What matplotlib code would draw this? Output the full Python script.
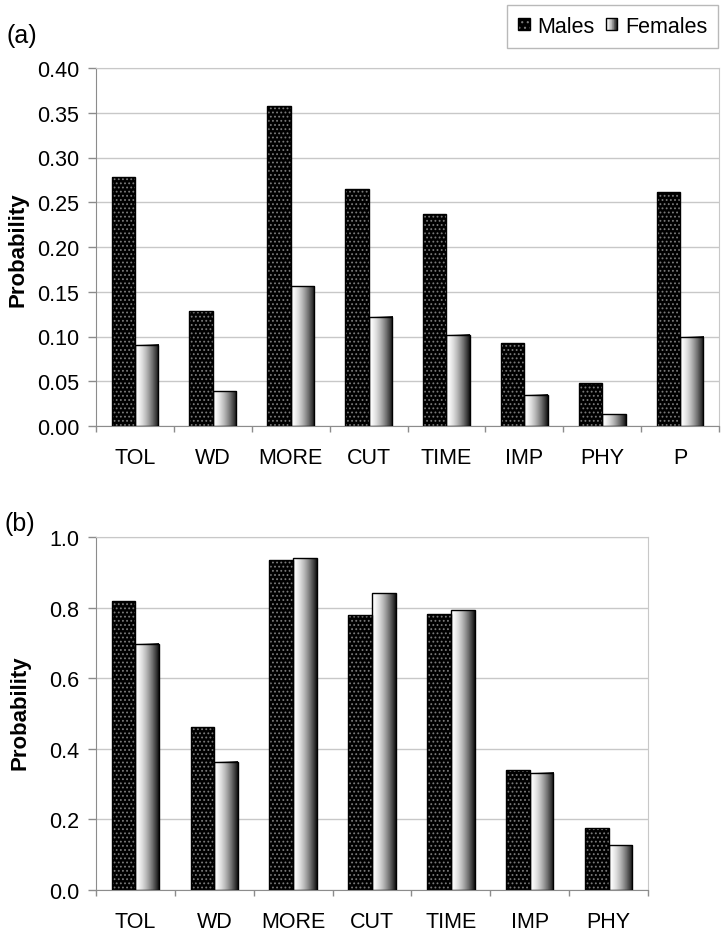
import numpy as np
import matplotlib
matplotlib.use("Agg")
import matplotlib.pyplot as plt
from matplotlib.patches import Rectangle, Patch
from matplotlib.legend_handler import HandlerBase
from matplotlib.ticker import FormatStrFormatter

plt.rcParams['font.family'] = ['Liberation Sans', 'DejaVu Sans']
plt.rcParams['hatch.linewidth'] = 0.8

# ---- data ----
cats_a = ["TOL", "WD", "MORE", "CUT", "TIME", "IMP", "PHY", "P"]
males_a = [0.278, 0.128, 0.357, 0.265, 0.237, 0.093, 0.048, 0.261]
females_a = [0.091, 0.039, 0.156, 0.122, 0.102, 0.035, 0.013, 0.100]

cats_b = ["TOL", "WD", "MORE", "CUT", "TIME", "IMP", "PHY"]
males_b = [0.820, 0.462, 0.935, 0.778, 0.783, 0.340, 0.176]
females_b = [0.697, 0.363, 0.940, 0.840, 0.792, 0.332, 0.127]

series_labels = ["Males", "Females"]
yticks_a = [0.00, 0.05, 0.10, 0.15, 0.20, 0.25, 0.30, 0.35, 0.40]
yticks_b = [0.0, 0.2, 0.4, 0.6, 0.8, 1.0]

# ---- styling ----
FS = 15.5
BAR_W = 0.30
HATCH = '....'
DOT_COLOR = '#7a7a7a'
AXIS_COLOR = '#8c8c8c'
GRID_COLOR = '#c8c8c8'
grad_t = np.linspace(0, 1, 64)
grad_vals = 1 - 0.93 * grad_t ** 1.6

W, H = 728, 937
fig = plt.figure(figsize=(W / 100, H / 100), dpi=100)


def fx(px):
    return px / W


def fy(py):
    return 1 - py / H


def draw_panel(ax, cats, males, females, yticks, fmt):
    x = np.arange(len(cats))
    ax.bar(x - BAR_W / 2, males, BAR_W, facecolor='black', edgecolor=DOT_COLOR,
           hatch=HATCH, linewidth=0, zorder=2)
    ax.bar(x - BAR_W / 2, males, BAR_W, facecolor='none', edgecolor='black',
           linewidth=1.0, zorder=3)
    fb = ax.bar(x + BAR_W / 2, females, BAR_W, facecolor='none', edgecolor='black',
                linewidth=1.0, zorder=3)
    for rect in fb:
        x0, w, h = rect.get_x(), rect.get_width(), rect.get_height()
        ax.imshow(grad_vals[np.newaxis, :], cmap='gray', vmin=0, vmax=1,
                  extent=(x0, x0 + w, 0, h), aspect='auto', zorder=2,
                  interpolation='bilinear')
    ax.set_xlim(-0.5, len(cats) - 0.5)
    ax.set_ylim(yticks[0], yticks[-1])
    ax.set_yticks(yticks)
    ax.yaxis.set_major_formatter(FormatStrFormatter(fmt))
    ax.set_xticks(x)
    ax.set_xticklabels(cats)
    ax.set_xticks(np.arange(len(cats) + 1) - 0.5, minor=True)
    ax.tick_params(axis='x', which='major', length=0, pad=15, labelsize=FS)
    ax.tick_params(axis='x', which='minor', length=4, direction='out',
                   color=AXIS_COLOR, width=1)
    ax.tick_params(axis='y', which='major', length=6, direction='out',
                   color=AXIS_COLOR, width=1, pad=6, labelsize=FS)
    ax.yaxis.grid(True, color=GRID_COLOR, linewidth=1)
    ax.set_axisbelow(True)
    for s in ['left', 'bottom']:
        ax.spines[s].set_color(AXIS_COLOR)
    for s in ['top', 'right']:
        ax.spines[s].set_color(GRID_COLOR)


ax_a = fig.add_axes([fx(96), fy(427), fx(719) - fx(96), fy(69) - fy(427)])
draw_panel(ax_a, cats_a, males_a, females_a, yticks_a, '%.2f')

ax_b = fig.add_axes([fx(96), fy(891), fx(648) - fx(96), fy(538) - fy(891)])
draw_panel(ax_b, cats_b, males_b, females_b, yticks_b, '%.1f')

fig.text(fx(6), fy(36), '(a)', fontsize=18, ha='left', va='center')
fig.text(fx(5), fy(524), '(b)', fontsize=18, ha='left', va='center')
fig.text(fx(18), fy(250), 'Probability', fontsize=16, fontweight='bold',
         rotation=90, ha='center', va='center')
fig.text(fx(20), fy(713), 'Probability', fontsize=16, fontweight='bold',
         rotation=90, ha='center', va='center')


class MaleHandler(HandlerBase):
    def create_artists(self, legend, orig_handle, xdescent, ydescent,
                       width, height, fontsize, trans):
        s = min(width, height)
        x0 = -xdescent + (width - s) / 2
        y0 = -ydescent + (height - s) / 2
        r1 = Rectangle((x0, y0), s, s, facecolor='black', edgecolor=DOT_COLOR,
                       hatch='...', linewidth=0, transform=trans)
        r2 = Rectangle((x0, y0), s, s, facecolor='none', edgecolor='black',
                       linewidth=1, transform=trans)
        return [r1, r2]


class FemaleHandler(HandlerBase):
    def create_artists(self, legend, orig_handle, xdescent, ydescent,
                       width, height, fontsize, trans):
        s = min(width, height)
        x0 = -xdescent + (width - s) / 2
        y0 = -ydescent + (height - s) / 2
        arts = []
        n = 16
        for k, t in enumerate(np.linspace(0, 1, n)):
            v = 1 - 0.93 * t ** 1.6
            arts.append(Rectangle((x0 + k * s / n, y0), s / n + 0.3, s,
                                  facecolor=str(v), edgecolor='none',
                                  linewidth=0, transform=trans))
        arts.append(Rectangle((x0, y0), s, s, facecolor='none', edgecolor='black',
                              linewidth=1, transform=trans))
        return arts


h_m = Patch(label=series_labels[0])
h_f = Patch(label=series_labels[1])
leg = fig.legend([h_m, h_f], series_labels, loc='upper right',
                 bbox_to_anchor=(fx(718), fy(6)), ncol=2, fontsize=15.5,
                 frameon=True, fancybox=False, edgecolor='#a8a8a8',
                 handlelength=0.55, handleheight=0.55, handletextpad=0.35,
                 columnspacing=0.5, borderpad=0.5, borderaxespad=0,
                 handler_map={h_m: MaleHandler(), h_f: FemaleHandler()})
leg.get_frame().set_linewidth(1.0)

fig.savefig('out.png', dpi=100)
